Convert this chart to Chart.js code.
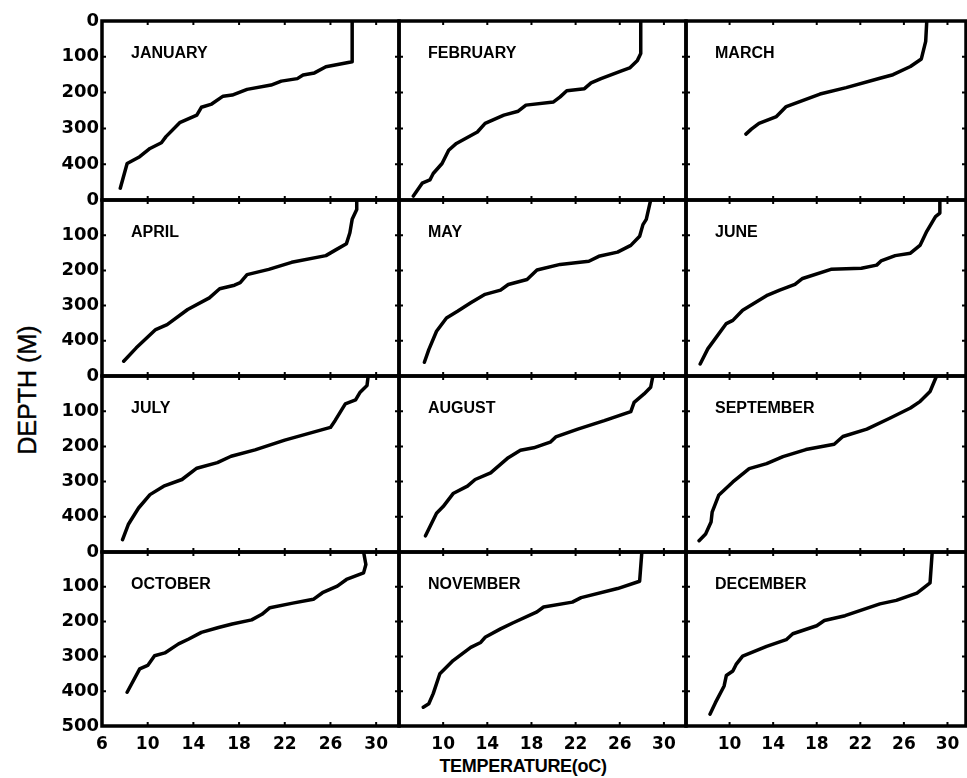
<!DOCTYPE html>
<html><head><meta charset="utf-8">
<script src="https://cdn.jsdelivr.net/npm/chart.js@4.4.1/dist/chart.umd.min.js"></script>
<style>
html,body{margin:0;padding:0;background:#fff;width:967px;height:778px;overflow:hidden;position:relative;}
canvas{position:absolute;}
.t{position:absolute;font-family:"Liberation Sans",Arial,sans-serif;color:#000;white-space:nowrap;}
#ytitle{font-size:25px;left:27px;top:390px;transform:translate(-50%,-50%) rotate(-90deg);-webkit-text-stroke:0.4px #000;}
#xtitle{font-size:18px;font-weight:bold;left:523px;top:766px;transform:translate(-50%,-50%);letter-spacing:-0.3px;}
</style></head><body>
<div class="t" id="ytitle">DEPTH (M)</div>
<div class="t" id="xtitle">TEMPERATURE(oC)</div>
<script>
// ---- data ----
const months = ['JANUARY','FEBRUARY','MARCH','APRIL','MAY','JUNE','JULY','AUGUST','SEPTEMBER','OCTOBER','NOVEMBER','DECEMBER'];
const tempTicks = [6,10,14,18,22,26,30];
const depthTicks = [0,100,200,300,400,500];

// [temperature (oC), depth (m)]
const janProfile = [[7.6,467],[8.2,398],[9.3,379],[10.2,356],[11.2,340],[11.6,323],[12.8,284],[14.3,263],[14.7,241],[15.6,232],[16.6,210],[17.4,207],[18.7,191],[20.8,179],[21.7,168],[23.1,161],[23.6,151],[24.6,145],[25.6,128],[27.9,114],[27.9,0]];
const febProfile = [[7.3,489],[8.1,453],[8.8,444],[9.1,426],[9.9,398],[10.5,361],[11.2,342],[13.1,310],[13.8,286],[15.5,263],[16.8,252],[17.5,235],[20.0,226],[20.6,212],[21.2,195],[22.8,189],[23.4,173],[24.3,161],[26.1,140],[26.9,131],[27.6,110],[27.9,91],[27.9,0]];
const marProfile = [[11.5,316],[12.0,302],[12.7,286],[14.3,267],[15.2,239],[18.3,204],[20.7,186],[23.8,160],[25.0,150],[26.6,127],[27.6,106],[28.0,57],[28.1,0]];
const aprProfile = [[7.9,458],[9.0,420],[10.7,368],[11.7,354],[13.5,311],[15.4,278],[16.3,252],[17.6,242],[18.1,235],[18.7,212],[20.6,197],[22.6,177],[25.6,158],[26.5,141],[27.4,124],[27.7,93],[27.9,55],[28.3,27],[28.3,0]];
const mayProfile = [[8.3,461],[8.7,425],[9.4,373],[10.3,335],[11.3,316],[12.5,292],[13.8,268],[15.2,256],[15.9,240],[17.6,226],[18.5,199],[20.6,183],[23.2,174],[24.1,160],[25.8,148],[27.0,129],[27.8,103],[28.1,70],[28.4,55],[28.8,0]];
const junProfile = [[7.3,466],[8.0,423],[9.7,351],[10.3,342],[11.2,313],[13.5,270],[14.6,256],[16.0,240],[16.7,223],[19.3,197],[22.1,194],[23.5,185],[23.9,173],[25.2,158],[26.6,151],[27.5,128],[28.1,89],[28.9,47],[29.3,37],[29.3,0]];
const julProfile = [[7.8,465],[8.3,422],[9.2,375],[10.2,337],[11.4,313],[13.0,294],[14.3,262],[16.1,246],[17.3,228],[19.4,210],[22.0,182],[26.0,146],[26.4,127],[27.3,79],[28.2,68],[28.6,46],[29.2,27],[29.3,0]];
const augProfile = [[8.4,454],[9.4,390],[10.0,371],[10.9,334],[12.2,313],[12.9,294],[14.3,275],[15.9,232],[17.0,211],[18.2,204],[19.7,188],[20.2,173],[22.2,151],[24.6,127],[27.0,101],[27.3,75],[28.2,51],[28.8,32],[29.0,0]];
const sepProfile = [[7.2,468],[7.8,449],[8.3,415],[8.4,387],[9.0,339],[10.3,301],[11.8,263],[13.4,249],[14.9,229],[17.0,209],[19.6,194],[20.4,172],[22.6,151],[24.7,120],[26.6,91],[27.5,72],[28.4,44],[29.0,0]];
const octProfile = [[8.2,403],[9.3,336],[10.0,326],[10.6,298],[11.5,290],[12.7,264],[13.6,250],[14.7,231],[16.2,217],[17.4,207],[19.1,195],[20.0,179],[20.7,160],[22.7,147],[24.5,136],[25.3,117],[26.6,98],[27.4,79],[28.9,60],[29.1,36],[28.9,0]];
const novProfile = [[8.2,446],[8.7,436],[9.1,407],[9.7,350],[10.9,312],[12.5,274],[13.4,260],[13.8,245],[15.2,221],[16.3,204],[18.5,172],[19.1,158],[21.7,144],[22.5,131],[25.8,105],[27.8,84],[28.0,0]];
const decProfile = [[8.2,466],[8.7,433],[9.5,385],[9.7,355],[10.3,342],[10.6,323],[11.2,299],[13.4,271],[15.2,252],[15.8,235],[18.0,212],[18.7,197],[20.6,183],[23.8,149],[25.3,139],[27.2,118],[28.4,89],[28.6,0]];

const profiles = [janProfile,febProfile,marProfile,aprProfile,mayProfile,junProfile,julProfile,augProfile,sepProfile,octProfile,novProfile,decProfile];

// ---- layout ----
const colL = [102,399,686], colR = [399,686,966];
const rowT = [21,200,376,552], rowB = [200,376,552,726];
const colTempMax = [32,32,31.7];

const panelPlugin = {
  id: 'panel',
  afterDraw(chart, args, opts) {
    const {ctx, chartArea: a, scales} = chart;
    ctx.save();
    ctx.strokeStyle = '#000';
    ctx.lineWidth = 3.5;
    ctx.strokeRect(a.left, a.top, a.right - a.left, a.bottom - a.top);
    ctx.lineWidth = 2;
    ctx.beginPath();
    tempTicks.forEach(t => {
      const x = scales.x.getPixelForValue(t);
      if (x <= a.left + 3) return;
      ctx.moveTo(x, a.top); ctx.lineTo(x, a.top + 4);
      ctx.moveTo(x, a.bottom); ctx.lineTo(x, a.bottom - 4);
    });
    depthTicks.forEach(d => {
      const y = scales.y.getPixelForValue(d);
      if (y <= a.top + 3 || y >= a.bottom - 3) return;
      ctx.moveTo(a.left, y); ctx.lineTo(a.left + 4, y);
      ctx.moveTo(a.right, y); ctx.lineTo(a.right - 4, y);
    });
    ctx.stroke();
    ctx.fillStyle = '#000';
    ctx.font = 'bold 16px "Liberation Sans", Arial, sans-serif';
    ctx.textAlign = 'left';
    ctx.textBaseline = 'alphabetic';
    ctx.fillText(opts.label, a.left + 29, a.top + 37);
    ctx.restore();
  }
};

const tickFont = {family: '"DejaVu Sans", sans-serif', weight: 'bold', size: 17};

profiles.forEach((prof, i) => {
  const r = Math.floor(i / 3), c = i % 3;
  const padL = c === 0 ? colL[0] : 14;
  const padR = 14, padT = 14;
  const padB = r === 3 ? 52 : 14;
  const w = colR[c] - colL[c] + padL + padR;
  const h = rowB[r] - rowT[r] + padT + padB;
  const cv = document.createElement('canvas');
  cv.width = w; cv.height = h;
  cv.style.width = w + 'px'; cv.style.height = h + 'px';
  cv.style.left = (colL[c] - padL) + 'px';
  cv.style.top = (rowT[r] - padT) + 'px';
  document.body.appendChild(cv);

  new Chart(cv, {
    type: 'scatter',
    data: {
      datasets: [{
        data: prof.map(p => ({x: p[0], y: p[1]})),
        showLine: true,
        borderColor: '#000',
        borderWidth: 3.5,
        pointRadius: 0,
        tension: 0,
        borderJoinStyle: 'round',
        borderCapStyle: 'round'
      }]
    },
    options: {
      responsive: false,
      animation: false,
      devicePixelRatio: 1,
      layout: {padding: {left: 0, right: padR, top: padT, bottom: 0}},
      plugins: {legend: {display: false}, tooltip: {enabled: false}, panel: {label: months[i]}},
      scales: {
        x: {
          type: 'linear', position: 'bottom', min: 6, max: colTempMax[c],
          grid: {display: false, drawTicks: false}, border: {display: false},
          afterBuildTicks: s => { s.ticks = tempTicks.map(v => ({value: v})); },
          afterFit: s => { s.height = padB; },
          ticks: {
            display: r === 3, color: '#000', font: tickFont, padding: 8, maxRotation: 0,
            callback: v => (c > 0 && v === 6) ? '' : String(v)
          }
        },
        y: {
          type: 'linear', position: 'left', min: 0, max: 500, reverse: true,
          grid: {display: false, drawTicks: false}, border: {display: false},
          afterBuildTicks: s => { s.ticks = depthTicks.map(v => ({value: v})); },
          afterFit: s => { s.width = padL; },
          ticks: {
            display: c === 0, color: '#000', font: Object.assign({}, tickFont, {size: 18}), padding: 3,
            callback: v => (r < 3 && v === 500) ? '' : String(v)
          }
        }
      }
    },
    plugins: [panelPlugin]
  });
});
</script>
</body></html>
